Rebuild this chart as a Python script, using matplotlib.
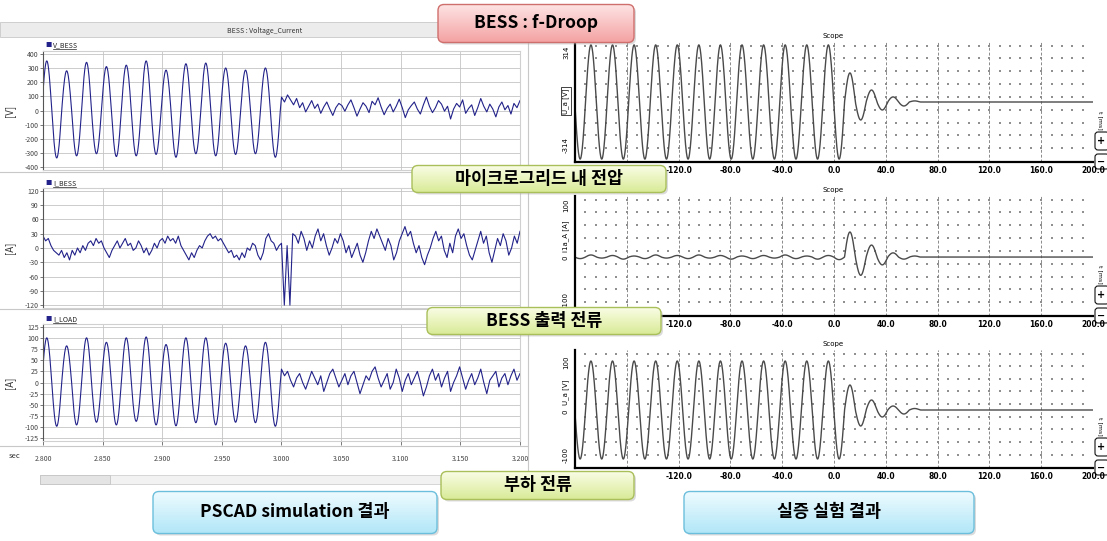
import numpy as np
import matplotlib
matplotlib.use('Agg')
import matplotlib.pyplot as plt
from matplotlib.patches import FancyBboxPatch, Rectangle
from matplotlib.colors import LinearSegmentedColormap
from matplotlib.lines import Line2D

plt.rcParams['font.family'] = ['Noto Sans CJK KR', 'DejaVu Sans']
plt.rcParams['axes.unicode_minus'] = False

W, H = 1107, 541

# ---- PSCAD simulation data ----
# per-cycle positive / negative peaks before the switch at 3.0 s
v_pos = [350, 280, 340, 310, 320, 350, 285, 330, 335, 300, 285, 300]
v_neg = [-335, -320, -305, -325, -320, -310, -330, -305, -320, -310, -305, -330]
v_post = [95, 60, 110, 75, 40, 85, 20, 55, -10, 30, 70, 15, 45, -20, 25, 60, 10, -35, 20, 50,
          35, -5, 40, 75, 20, -40, 10, 55, 30, -15, 65, 40, 90, 25, -30, 15, 45, -10, 30, 80,
          20, -50, 5, 35, 60, 10, -25, 40, 95, 30, -15, 20, 70, 45, -5, 30, -60, 10, 50, 25,
          75, -20, 15, 40, -35, 20, 85, 30, -10, 45, 10, -45, 25, 60, 5, 35, -25, 50, 20, 70]

ib_pre = [25, 15, 20, 5, -5, -10, -15, -5, -20, -10, -25, -5, -15, 0, -10, 5, -5, 10, 15, 5,
          20, 10, 15, 0, -10, -20, -5, 5, 15, 0, 10, 20, 5, 10, -5, 0, 15, 5, -10, 0,
          -15, -5, 10, 0, 15, 20, 10, 25, 15, 20, 10, 25, 5, -5, -15, -25, -10, -20, -5, 5,
          0, 15, 25, 30, 20, 25, 15, 20, 10, 0, -10, -5, -20, -15, -25, -10, -20, 0, -5, 10,
          5, -15, -25, -10, 20, 30, 15, 10, -5, 5]
ib_post = [10, -120, 5, -120, 30, 25, 10, 35, 20, -5, 15, 0, 25, 40, 15, 30, 5, -15, 0, 20,
           10, 30, 15, -10, 5, -20, -5, 10, -15, -30, -10, 15, 35, 20, 40, 25, 10, -5, 20, 5,
           -25, -10, 15, 30, 45, 25, 35, 10, -10, 5, -20, -35, -15, 0, 20, 35, 15, 25, -5, -20,
           10, -10, 25, 40, 20, 30, 5, -15, -25, -5, 15, 35, 10, 25, -10, -30, -5, 20, 5, 30,
           15, -15, 0, 25, 10, 35]

il_pos = [100, 82, 100, 90, 100, 102, 85, 100, 100, 88, 82, 90]
il_neg = [-98, -95, -89, -95, -87, -95, -97, -90, -95, -89, -90, -98]
il_post = [30, 15, 25, 5, -10, 10, 20, 0, -15, 5, 25, 10, -5, 15, -20, 0, 20, 30, 10, -10,
           5, 20, -5, 15, 25, 0, -25, -5, 15, 5, 25, 35, 10, -10, 5, 20, -15, 0, 30, 10,
           -20, 5, 20, -5, 10, 25, 0, -30, -10, 15, 30, 5, 20, -10, 10, 25, -20, 0, 15, 35,
           10, -15, 5, 20, -5, 10, 30, 0, -25, 5, 15, 25, -10, 10, 20, -5, 15, 30, 5, 20]

pscad_xticks = [2.80, 2.85, 2.90, 2.95, 3.00, 3.05, 3.10, 3.15, 3.20]

# ---- field test (scope) data: signed half-cycle peaks, -200 ms .. ----
sc_v_amps = [-314, 314, -314, 314, -314, 314, -314, 314, -314, 314, -314, 314,
             -314, 314, -314, 314, -314, 314, -314, 314, -314, 314, -314, 314,
             -314, 160, -99, 66, -44, 28, -22, 6]
sc_i_amps = [-3, 4, -2, 3, -4, 2, -3, 4, -2, 3, -3, 4, -2, 3, -4, 2, -3, 3, -2, 4, -3, 2, -4, 3,
             -5, 48, -35, 23, -15, 8, -4, 2]
sc_u_amps = [-98, 98, -98, 98, -98, 98, -98, 98, -98, 98, -98, 98,
             -98, 98, -98, 98, -98, 98, -98, 98, -98, 98, -98, 98,
             -98, 50, -32, 20, -14, 8, -8, 3]
scope_xticks = [-200, -160, -120, -80, -40, 0, 40, 80, 120, 160, 200]
# the first two labels sit under the callouts in the picture
scope_xlabels = ['', '', '-120.0', '-80.0', '-40.0', '0.0', '40.0', '80.0', '120.0', '160.0', '200.0']

callouts = [
    (438, 4, 634, 42, 'BESS : f-Droop', 'pink'),
    (412, 165, 666, 192, '마이크로그리드 내 전압', 'lime'),
    (427, 307, 661, 334, 'BESS 출력 전류', 'lime'),
    (441, 471, 634, 499, '부하 전류', 'lime'),
    (153, 491, 437, 533, 'PSCAD simulation 결과', 'cyan'),
    (684, 491, 974, 533, '실증 실험 결과', 'cyan'),
]
themes = {
    'pink': ('#f4a3a3', '#fde4e4', '#cf6f6d'),
    'lime': ('#d9eb98', '#fafde6', '#a9bf5a'),
    'cyan': ('#b2e7f8', '#effbff', '#6cbfdc'),
}


def px_rect(x0, y0, x1, y1):
    return [x0 / W, 1 - y1 / H, (x1 - x0) / W, (y1 - y0) / H]


def ftext(x, y, s, **kw):
    return fig.text(x / W, 1 - y / H, s, **kw)


def half_cycles(t, t0, half, amps):
    amps = np.asarray(amps, dtype=float)
    pos = (t - t0) / half
    k = np.floor(pos).astype(int)
    y = np.zeros_like(t)
    ok = (k >= 0) & (k < len(amps))
    y[ok] = amps[k[ok]] * np.sin(np.pi * (pos[ok] - k[ok]))
    return y


fig = plt.figure(figsize=(W / 100, H / 100), dpi=100)

# ---------------- left: PSCAD ----------------
bg = fig.add_axes([0, 0, 1, 1], zorder=-5)
bg.set_xlim(0, W); bg.set_ylim(H, 0); bg.axis('off')
bg.add_patch(Rectangle((0, 22), 528, 15, facecolor='#ececec', edgecolor='#c8c8c8', lw=0.6))
for yy in [172, 309, 446]:
    bg.plot([0, 528], [yy, yy], color='#c8c8c8', lw=0.8)
bg.plot([528, 528], [22, 488], color='#c8c8c8', lw=0.8)
bg.add_patch(Rectangle((40, 475), 480, 9, facecolor='#f2f2f2', edgecolor='#d0d0d0', lw=0.6))
bg.add_patch(Rectangle((40, 475), 70, 9, facecolor='#e4e4e4', edgecolor='#c4c4c4', lw=0.6))
ftext(265, 31, 'BESS : Voltage_Current', fontsize=5, ha='center', va='center', color='#333')
ftext(15, 456, 'sec', fontsize=5.5, ha='center', va='center', color='#333')

navy = '#22228a'
t_pre = np.linspace(2.8, 2.999, 900)

v_y = np.concatenate([half_cycles(t_pre, 2.799, 1 / 120, np.column_stack([v_pos, v_neg]).ravel()), v_post])
v_t = np.concatenate([t_pre, np.linspace(3.0, 3.2, len(v_post))])
ib_t = np.concatenate([np.linspace(2.8, 2.998, len(ib_pre)), np.linspace(3.0, 3.2, len(ib_post))])
ib_y = np.concatenate([ib_pre, ib_post])
il_y = np.concatenate([half_cycles(t_pre, 2.799, 1 / 120, np.column_stack([il_pos, il_neg]).ravel()), il_post])
il_t = np.concatenate([t_pre, np.linspace(3.0, 3.2, len(il_post))])

panels = [
    ((43, 51, 520, 170), v_t, v_y, (-420, 420), np.arange(-400, 401, 100), 'V_BESS', '[V]', 45),
    ((43, 188, 520, 308), ib_t, ib_y, (-126, 126), np.arange(-120, 121, 30), 'I_BESS', '[A]', 183),
    ((43, 324, 520, 441), il_t, il_y, (-131, 131), np.arange(-125, 126, 25), 'I_LOAD', '[A]', 319),
]
for i, (r, t, y, yl, yt, name, unit, ly) in enumerate(panels):
    ax = fig.add_axes(px_rect(*r))
    ax.plot(t, y, color=navy, lw=0.8)
    ax.set_xlim(2.8, 3.2)
    ax.set_ylim(*yl)
    ax.set_yticks(yt)
    ax.set_xticks(pscad_xticks)
    ax.grid(True, color='#c4c4c4', lw=0.6)
    ax.set_axisbelow(True)
    for s in ['top', 'right', 'bottom']:
        ax.spines[s].set_color('#d0d0d0')
    ax.spines['left'].set_color('#555')
    ax.tick_params(axis='y', labelsize=5, colors='#444', length=2, width=0.5, pad=1)
    if i == 2:
        ax.set_xticklabels(['%.3f' % v for v in pscad_xticks])
        ax.tick_params(axis='x', labelsize=5, colors='#444', length=3, width=0.5, pad=7)
    else:
        ax.tick_params(axis='x', labelbottom=False, length=0)
    ftext(10, (r[1] + r[3]) / 2, unit, rotation=90, fontsize=7, ha='center', va='center', color='#333')
    ftext(45, ly, '■', fontsize=4.5, color=navy, ha='left', va='center')
    ftext(53, ly, name, fontsize=5, color='#222', ha='left', va='center')
    fig.add_artist(Line2D([53 / W, 76 / W], [1 - (ly + 4) / H] * 2, color='#222', lw=0.5))

# ---------------- right: scopes ----------------
t_sc = np.linspace(-200, 200, 3000)
scopes = [
    ((575, 42, 1093, 162), sc_v_amps, (-330, 330),
     [('314', 52), ('-314', 145)], 'U_a [V]', 101, True),
    ((575, 196, 1093, 316), sc_i_amps, (-113, 117),
     [('100', 205), ('0', 258), ('-100', 300)], 'i1a_A [A]', 236, False),
    ((575, 350, 1093, 468), sc_u_amps, (-116, 120),
     [('100', 362), ('0', 412), ('-100', 455)], 'U_a [V]', 392, False),
]
dot_x = np.arange(-192, 200, 8)
dot_rows = 0.97 - 0.107 * np.arange(9)
for r, amps, yl, ylabs, name, ny, boxed in scopes:
    ax = fig.add_axes(px_rect(*r))
    ax.set_xlim(-200, 200)
    ax.set_ylim(*yl)
    gx, gy = np.meshgrid(dot_x, dot_rows)
    ax.scatter(gx.ravel(), gy.ravel(), s=0.7, marker='s', color='#909090',
               transform=ax.get_xaxis_transform(), lw=0)
    for xv in scope_xticks[1:-1]:
        ax.axvline(xv, color='#8a8a8a', lw=0.7, ls=(0, (3, 2)))
    ax.plot(t_sc, half_cycles(t_sc, -200.2, 25 / 3, amps), color='#4a4a4a', lw=1.0)
    for s in ['top', 'right']:
        ax.spines[s].set_visible(False)
    ax.spines['left'].set_linewidth(1.6)
    ax.spines['bottom'].set_linewidth(1.6)
    ax.set_yticks([])
    ax.set_xticks(scope_xticks)
    ax.set_xticklabels(scope_xlabels, fontsize=6, fontweight='bold',
                       fontstretch='condensed', family=['DejaVu Sans'])
    ax.tick_params(axis='x', length=0, pad=3)
    ftext(833, r[1] - 6, 'Scope', fontsize=5, ha='center', va='center', family=['DejaVu Sans'])
    for s, yy in ylabs:
        ftext(566, yy, s, rotation=90, fontsize=5, ha='center', va='center', family=['DejaVu Sans'])
    kw = dict(rotation=90, fontsize=5, ha='center', va='center', family=['DejaVu Sans'])
    if boxed:
        kw['bbox'] = dict(boxstyle='square,pad=0.2', fc='white', ec='#222', lw=0.6)
    ftext(566, ny, name, **kw)
    a = r[3]
    ftext(1100, a - 42, 't [ms]', rotation=270, fontsize=4.5, ha='center', va='center',
          family=['DejaVu Sans'])
    bg.add_patch(FancyBboxPatch((1095, a - 30), 14, 18, boxstyle='round,pad=0,rounding_size=3',
                                facecolor='white', edgecolor='#111', lw=0.8))
    bg.add_patch(FancyBboxPatch((1095, a - 8), 14, 15, boxstyle='round,pad=0,rounding_size=3',
                                facecolor='white', edgecolor='#111', lw=0.8))
    ftext(1101, a - 21, '+', fontsize=7, fontweight='bold', ha='center', va='center',
          family=['DejaVu Sans'], zorder=6)
    ftext(1101, a, '−', fontsize=7, fontweight='bold', ha='center', va='center',
          family=['DejaVu Sans'], zorder=6)

# ---------------- callout boxes ----------------
for x0, y0, x1, y1, txt, th in callouts:
    w, h = x1 - x0 + 4, y1 - y0 + 4
    cax = fig.add_axes(px_rect(x0 - 1, y0 - 1, x1 + 3, y1 + 3))
    cax.set_zorder(20)
    cax.set_xlim(0, w); cax.set_ylim(0, h); cax.axis('off')
    bot, top, edge = themes[th]
    cax.add_patch(FancyBboxPatch((3, 0.5), w - 4, h - 4, boxstyle='round,pad=0,rounding_size=6',
                                 facecolor='#b0b0b0', edgecolor='none', alpha=0.45))
    box = FancyBboxPatch((1, 2.5), w - 4, h - 4, boxstyle='round,pad=0,rounding_size=6',
                         facecolor='none', edgecolor=edge, lw=1.0, zorder=3)
    cmap = LinearSegmentedColormap.from_list(th, [bot, top])
    im = cax.imshow(np.linspace(0, 1, 60).reshape(-1, 1), extent=[1, w - 3, 2.5, h - 1.5],
                    origin='lower', aspect='auto', cmap=cmap, zorder=2)
    cax.add_patch(box)
    im.set_clip_path(box)
    cax.text((w - 2) / 2, h / 2 + 1, txt, fontsize=12.5, fontweight='bold', ha='center',
             va='center', zorder=4)

fig.savefig('out.png', dpi=100)
